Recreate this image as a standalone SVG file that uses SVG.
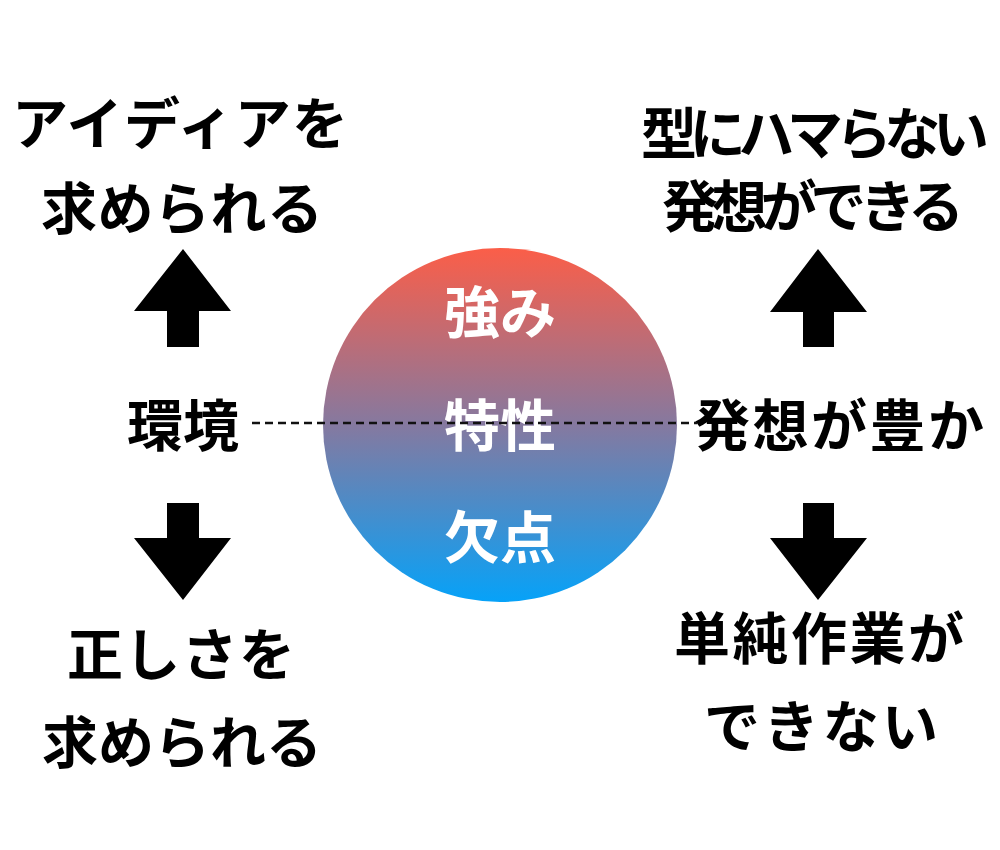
<svg xmlns="http://www.w3.org/2000/svg" width="1000" height="850" viewBox="0 0 1000 850">
<style>
.t{font-family:"Noto Sans CJK JP","Noto Sans",sans-serif;font-weight:700;font-size:56px;text-anchor:middle;fill:#000}
.w{fill:#fff}
.arr{fill:#000}
</style>
<defs>
<linearGradient id="g" x1="0" y1="0" x2="0" y2="1">
<stop offset="0" stop-color="#FB5E48"/>
<stop offset="0.5" stop-color="#8579A0"/>
<stop offset="1" stop-color="#06A2F8"/>
</linearGradient>
</defs>
<rect width="1000" height="850" fill="#fff"/>
<g id="center">
<circle cx="500" cy="425" r="177" fill="url(#g)"/>
<text class="t w" x="500" y="333">強み</text>
<text class="t w" x="500" y="446">特性</text>
<text class="t w" x="500" y="558">欠点</text>
</g>
<g id="left-top">
<text class="t" x="180" y="144" textLength="336">アイディアを</text>
<text class="t" x="182" y="229" textLength="282">求められる</text>
</g>
<g id="left-mid"><text class="t" x="183" y="446" textLength="112">環境</text></g>
<g id="left-bottom">
<text class="t" x="181" y="675" textLength="228">正しさを</text>
<text class="t" x="182" y="763" textLength="280">求められる</text>
</g>
<g id="right-top">
<text class="t" x="815" y="154" textLength="348">型にハマらない</text>
<text class="t" x="813" y="227" textLength="302">発想ができる</text>
</g>
<g id="right-mid"><text class="t" x="839" y="446" textLength="290">発想が豊か</text></g>
<g id="right-bottom">
<text class="t" x="819" y="659" textLength="290">単純作業が</text>
<text class="t" x="821" y="747" textLength="234">できない</text>
</g>
<g id="connectors">
<line x1="252" y1="423" x2="697" y2="423" stroke="#111" stroke-width="2.5" stroke-dasharray="8 5"/>
<polygon class="arr" points="183,249 231,311 199,311 199,347 167,347 167,311 134,311"/>
<polygon class="arr" points="183,600 231,538 199,538 199,503 167,503 167,538 134,538"/>
<polygon class="arr" points="818,249 867,312 834,312 834,347 803,347 803,312 770,312"/>
<polygon class="arr" points="818,600 867,538 834,538 834,503 803,503 803,538 770,538"/>
</g>
</svg>
